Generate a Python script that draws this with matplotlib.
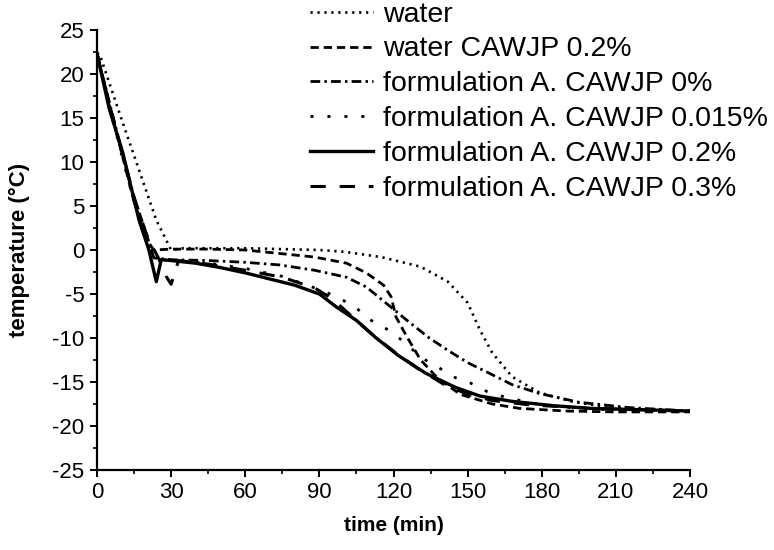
import matplotlib
matplotlib.use("Agg")
import matplotlib.pyplot as plt
from matplotlib.ticker import MultipleLocator

plt.rcParams['font.family'] = ['Liberation Sans', 'DejaVu Sans']
plt.rcParams['lines.scale_dashes'] = False
plt.rcParams['axes.unicode_minus'] = False

# ---- data (time in min, temperature in degC) ----
water_t = [0, 1, 10, 17, 24, 30, 35, 60, 90, 100, 115, 131, 142, 150, 155, 160, 168, 179, 192, 205, 220, 240]
water_y = [22.3, 22.3, 14.8, 9.1, 3.4, 0.0, 0.2, 0.2, 0.0, -0.2, -0.8, -1.9, -3.6, -6.0, -9.1, -11.7, -14.4, -16.2, -17.2, -17.8, -18.1, -18.3]

wcaw_t = [0, 5, 10, 15, 20, 23, 30, 45, 60, 74, 88, 101, 109, 116, 119, 121, 125.5, 131, 138, 147, 160, 171, 190, 210, 240]
wcaw_y = [22.3, 16.5, 11.0, 5.5, 1.2, 0.0, 0.1, 0.1, 0.0, -0.4, -0.8, -1.5, -2.6, -4.0, -5.3, -7.6, -9.9, -12.5, -14.6, -16.4, -17.5, -18.0, -18.3, -18.4, -18.4]

f0_t = [0, 5, 10, 15, 20, 23, 30, 45, 60, 74, 88, 101, 109, 119, 125.5, 134, 142, 150, 158, 168, 179, 195, 215, 240]
f0_y = [22.3, 16.8, 11.3, 6.0, 1.8, -0.9, -1.1, -1.2, -1.4, -1.7, -2.3, -3.1, -4.2, -6.5, -8.0, -9.9, -11.4, -12.8, -13.9, -15.3, -16.3, -17.3, -17.9, -18.3]

f015_t = [0, 5, 10, 15, 20, 24, 30, 45, 60, 75, 90, 97, 104.5, 111, 118, 125, 131, 138, 144, 151, 158, 166, 180, 200, 240]
f015_y = [22.3, 16.3, 10.8, 5.5, 1.0, -1.0, -1.2, -1.5, -2.1, -3.0, -4.5, -5.3, -6.5, -8.0, -9.1, -10.6, -12.2, -13.3, -14.4, -15.1, -16.1, -16.8, -17.6, -18.1, -18.3]

f02_t = [0, 5, 10.5, 17, 21, 24, 26, 30, 40, 50, 60, 70, 80, 90, 97, 105, 113, 122, 133, 145, 155, 168, 185, 200, 240]
f02_y = [22.3, 16.0, 11.0, 3.4, 0.0, -3.6, -1.1, -1.2, -1.5, -2.0, -2.6, -3.3, -4.0, -5.0, -6.5, -8.0, -10.0, -12.0, -14.0, -15.6, -16.6, -17.2, -17.7, -18.0, -18.3]

f03_t = [0, 5, 10, 15, 20, 25, 28, 30, 33, 45, 60, 75, 88, 95, 103, 111, 120, 130, 140, 150, 160, 175, 200, 240]
f03_y = [22.3, 16.6, 11.2, 6.0, 1.8, -1.0, -3.0, -3.9, -1.2, -1.6, -2.3, -3.1, -4.3, -5.5, -7.5, -9.5, -11.5, -13.5, -15.2, -16.4, -17.1, -17.6, -18.0, -18.3]

labels = ["water", "water CAWJP 0.2%", "formulation A. CAWJP 0%",
          "formulation A. CAWJP 0.015%", "formulation A. CAWJP 0.2%",
          "formulation A. CAWJP 0.3%"]
x_ticks = [0, 30, 60, 90, 120, 150, 180, 210, 240]
y_ticks = [25, 20, 15, 10, 5, 0, -5, -10, -15, -20, -25]

fig = plt.figure(figsize=(7.74, 5.5), dpi=100)
ax = fig.add_axes([97/774, 80/550, 593/774, 440/550])

series = [
    (water_t, water_y, dict(linestyle=(0, (1.6, 3.4)), lw=1.9)),
    (wcaw_t, wcaw_y, dict(linestyle=(0, (6, 3.5)), lw=2.0)),
    (f0_t, f0_y, dict(linestyle=(0, (7, 3, 1.8, 3)), lw=2.0)),
    (f015_t, f015_y, dict(linestyle=(0, (2.2, 10)), lw=2.0)),
    (f02_t, f02_y, dict(linestyle='-', lw=2.4)),
    (f03_t, f03_y, dict(linestyle=(0, (11, 10)), lw=2.2)),
]
for (t, y, st), lab in zip(series, labels):
    ax.plot(t, y, color='black', label=lab, **st)

ax.set_xlim(0, 240)
ax.set_ylim(-25, 25)
ax.set_xticks(x_ticks)
ax.set_yticks(y_ticks)
ax.xaxis.set_minor_locator(MultipleLocator(15))
ax.yaxis.set_minor_locator(MultipleLocator(2.5))
ax.spines['top'].set_visible(False)
ax.spines['right'].set_visible(False)
for s in ('left', 'bottom'):
    ax.spines[s].set_linewidth(1.6)
ax.tick_params(which='major', direction='out', length=5, width=1.4, labelsize=16, pad=4)
ax.tick_params(which='minor', direction='out', length=3, width=1.2)

ax.set_xlabel("time (min)", fontsize=15, fontweight='bold', labelpad=9)
ax.set_ylabel("temperature (\u00b0C)", fontsize=16, fontweight='bold', labelpad=16)

fs = 20.5
fpx = fs * 100 / 72
leg = ax.legend(loc='upper left', bbox_to_anchor=(310/774, 0.997), bbox_transform=fig.transFigure,
                frameon=False, fontsize=fs, borderpad=0, borderaxespad=0,
                handlelength=63/fpx, handletextpad=10/fpx, labelspacing=0.31)

fig.savefig("out.png", dpi=100)
